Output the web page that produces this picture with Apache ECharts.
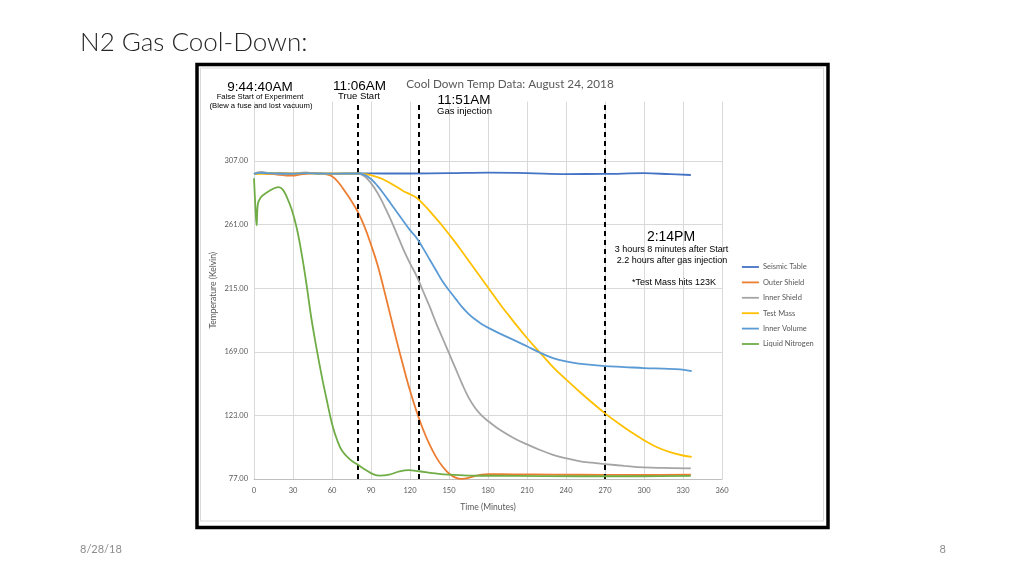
<!DOCTYPE html>
<html>
<head>
<meta charset="utf-8">
<script src="https://cdn.jsdelivr.net/npm/echarts@6/dist/echarts.min.js"></script>
<style>
html,body{margin:0;padding:0;background:#fff;}
#chart{width:1024px;height:576px;}
</style>
</head>
<body>
<div id="chart"></div>
<script>
// ---- data ----
const seriesNames = ['Seismic Table','Outer Shield','Inner Shield','Test Mass','Inner Volume','Liquid Nitrogen'];
const xTicks = [0,30,60,90,120,150,180,210,240,270,300,330,360];
const yTicks = [77,123,169,215,261,307];
const eventTimes = [80,127,270];

const seismicTable = [[0,297.6],[5,298.6],[10,298.0],[20,298.2],[30,297.9],[40,298.4],[50,298.0],[60,297.8],[80,298.1],[100,298.0],[120,298.0],[150,298.2],[180,298.6],[210,298.3],[240,297.6],[270,297.7],[300,298.2],[320,297.5],[336,296.9]];
const outerShield = [[0,297.5],[5,298.2],[10,297.8],[15,297.5],[20,297.0],[25,296.5],[30,296.4],[35,297.2],[40,297.8],[45,298.0],[50,298.1],[55,297.6],[60,296],[65,291.5],[70,285],[75,278],[80,270],[85,259.5],[90,246.5],[95,232],[100,214],[105,195],[110,176],[115,158],[120,141],[125,126],[130,113],[135,102],[140,93],[145,86],[150,81],[155,78],[160,77.1],[165,77.8],[170,79.2],[175,80.2],[180,80.5],[200,80.4],[230,80.2],[270,80.0],[300,79.9],[336,80.1]];
const innerShield = [[0,297.8],[3,298.8],[6,299.2],[10,298.5],[15,298],[20,297.6],[25,297.4],[30,297.8],[35,298.5],[40,298.8],[45,298.2],[50,297.8],[60,297.7],[70,297.9],[80,297.8],[85,296],[90,291],[95,284],[100,275],[105,265],[110,254],[115,243],[120,233],[125,224],[130,213],[135,202],[140,190],[145,179],[150,168],[155,157],[160,146],[165,136],[170,128.5],[175,123],[180,119],[190,112],[200,106.5],[210,102],[220,98],[230,94.5],[240,92],[250,90],[260,88.8],[270,87.8],[285,86.5],[300,85.4],[315,85],[336,84.7]];
const testMass = [[0,297.5],[10,298],[20,298.2],[30,298],[40,298.3],[50,298],[60,298],[70,298],[80,298],[85,297.6],[90,296.8],[95,295.3],[100,293.5],[105,291],[110,288.2],[115,285.2],[120,283],[125,280.5],[130,276],[135,271],[140,265.5],[145,260],[150,254],[155,248],[160,241.5],[165,235],[170,228.5],[175,222],[180,215.5],[185,209],[190,202.5],[195,196.5],[200,190.5],[210,179],[220,168.4],[230,158],[240,149],[250,140.5],[260,132.3],[270,124.5],[280,117.5],[290,111],[300,105],[310,100],[320,96.5],[330,94],[336.7,93]];
const innerVolume = [[0,297.6],[5,298.5],[10,298.2],[20,298],[30,297.8],[40,298.3],[50,298],[60,297.9],[70,298],[80,298],[85,297],[90,294],[95,289],[100,283],[105,276.5],[110,270],[115,263.5],[120,257],[125,251.5],[130,244],[135,236],[140,228],[145,220],[150,213.5],[155,207.5],[160,201.5],[165,196.5],[170,192.5],[175,189.2],[180,186.5],[190,181.8],[200,177.5],[210,173],[220,168.4],[230,164.5],[240,162],[250,160.5],[260,159.5],[270,158.7],[285,158],[300,157.2],[315,156.8],[328,156.3],[336.7,155]];
const liquidNitrogen = [[0,294.5],[1,275],[2,260.5],[3,276],[5,280.5],[8,283],[12,285.5],[16,287.5],[19,288.2],[22,286.5],[25,281.5],[29,272],[33,258],[37,238],[40.5,217],[44,194],[48,172],[52,152],[56,134],[60,117],[64,105],[68,97],[74,91],[80,87.3],[86,83.5],[92,80.3],[97,79.4],[104,80.2],[112,82.5],[119,83.4],[127,82.6],[140,81],[150,80.1],[165,79.5],[200,79.3],[250,79],[300,79],[336,79.2]];

const seriesData = [seismicTable, outerShield, innerShield, testMass, innerVolume, liquidNitrogen];
const colors = ['#4472C4','#ED7D31','#A5A5A5','#FFC000','#5B9BD5','#70AD47'];

// ---- chart ----
const chart = echarts.init(document.getElementById('chart'));
const calibri = 'Lato, "Open Sans", sans-serif';
const arial = '"Liberation Sans", Arial, sans-serif';

const series = seriesNames.map((n, i) => ({
  name: n,
  type: 'line',
  data: seriesData[i],
  showSymbol: false,
  symbol: 'none',
  smooth: 0.4,
  lineStyle: {color: colors[i], width: 1.8},
  itemStyle: {color: colors[i]},
  z: 3 + i
}));
series.push({
  name: 'events',
  type: 'line',
  data: [],
  silent: true,
  markLine: {
    silent: true,
    symbol: 'none',
    label: {show: false},
    lineStyle: {color: '#000', width: 2, type: [5, 4]},
    data: eventTimes.map(t => ({xAxis: t}))
  },
  z: 10
});

const gridLineColors = yTicks.map(() => '#d9d9d9').concat(['rgba(0,0,0,0)']);
const center = {textAlign: 'center', align: 'center', textVerticalAlign: 'middle', verticalAlign: 'middle'};
function txt(x, y, text, font, extra) {
  return Object.assign({type: 'text', x: x, y: y, z: 50,
    style: Object.assign({text: text, font: font, fill: '#000'}, center, extra || {})});
}

chart.setOption({
  animation: false,
  backgroundColor: '#fff',
  color: colors,
  grid: {left: 254, right: 302, top: 101.6, bottom: 97, containLabel: false},
  xAxis: {
    type: 'value', min: 0, max: 360, interval: 30,
    name: 'Time (Minutes)', nameLocation: 'middle', nameGap: 24,
    nameTextStyle: {fontFamily: calibri, fontSize: 8.5, color: '#595959'},
    axisLine: {show: true, lineStyle: {color: '#bfbfbf', width: 1}},
    axisTick: {show: false},
    axisLabel: {fontFamily: calibri, fontSize: 7.5, color: '#595959', margin: 8},
    splitLine: {show: true, lineStyle: {color: '#d9d9d9', width: 1}}
  },
  yAxis: {
    type: 'value', min: 77, max: 350, interval: 46,
    name: 'Temperature (Kelvin)', nameLocation: 'middle', nameGap: 36, nameRotate: 90,
    nameTextStyle: {fontFamily: calibri, fontSize: 8.5, color: '#595959'},
    axisLine: {show: false},
    axisTick: {show: false},
    axisLabel: {
      fontFamily: calibri, fontSize: 7.5, color: '#595959', margin: 6,
      formatter: v => (yTicks.indexOf(v) >= 0 ? v.toFixed(2) : '')
    },
    splitLine: {show: true, lineStyle: {color: gridLineColors, width: 1}}
  },
  legend: {
    data: seriesNames,
    orient: 'vertical',
    left: 741, top: 263, padding: 0,
    itemWidth: 17, itemHeight: 8, itemGap: 7.4,
    itemStyle: {opacity: 0},
    lineStyle: {width: 1.8},
    textStyle: {fontFamily: calibri, fontSize: 7.5, color: '#595959', padding: [0, 0, 0, -1]}
  },
  graphic: [
    {type: 'rect', shape: {x: 197, y: 64.5, width: 631, height: 463}, style: {fill: 'none', stroke: '#000', lineWidth: 3.5}, z: 100},
    {type: 'rect', shape: {x: 200.5, y: 68, width: 623, height: 453}, style: {fill: 'none', stroke: '#d9d9d9', lineWidth: 1}, z: 100},
    txt(80, 43, 'N2 Gas Cool-Down:', '300 26px ' + calibri, {fill: '#262626', textAlign: 'left', align: 'left'}),
    txt(80, 549, '8/28/18', '11px ' + calibri, {fill: '#8c8c8c', textAlign: 'left', align: 'left'}),
    txt(946, 549, '8', '11px ' + calibri, {fill: '#8c8c8c', textAlign: 'right', align: 'right'}),
    txt(510, 84.5, 'Cool Down Temp Data: August 24, 2018', '11.7px ' + calibri, {fill: '#595959'}),
    txt(260, 87, '9:44:40AM', '13.5px ' + arial),
    txt(260, 97, 'False Start of Experiment', '7.7px ' + arial),
    txt(261, 105.5, '(Blew a fuse and lost vacuum)', '7.7px ' + arial),
    txt(359.5, 86.5, '11:06AM', '13.5px ' + arial),
    txt(359, 96.5, 'True Start', '9.5px ' + arial),
    txt(464, 100.5, '11:51AM', '13.5px ' + arial),
    txt(437, 111, 'Gas injection', '9.5px ' + arial, {textAlign: 'left', align: 'left'}),
    txt(671, 237, '2:14PM', '14px ' + arial),
    txt(671.5, 250, '3 hours 8 minutes after Start', '9px ' + arial),
    txt(672, 261, '2.2 hours after gas injection', '9px ' + arial),
    txt(674, 283, '*Test Mass hits 123K', '9px ' + arial)
  ],
  series: series
});
</script>
</body>
</html>
